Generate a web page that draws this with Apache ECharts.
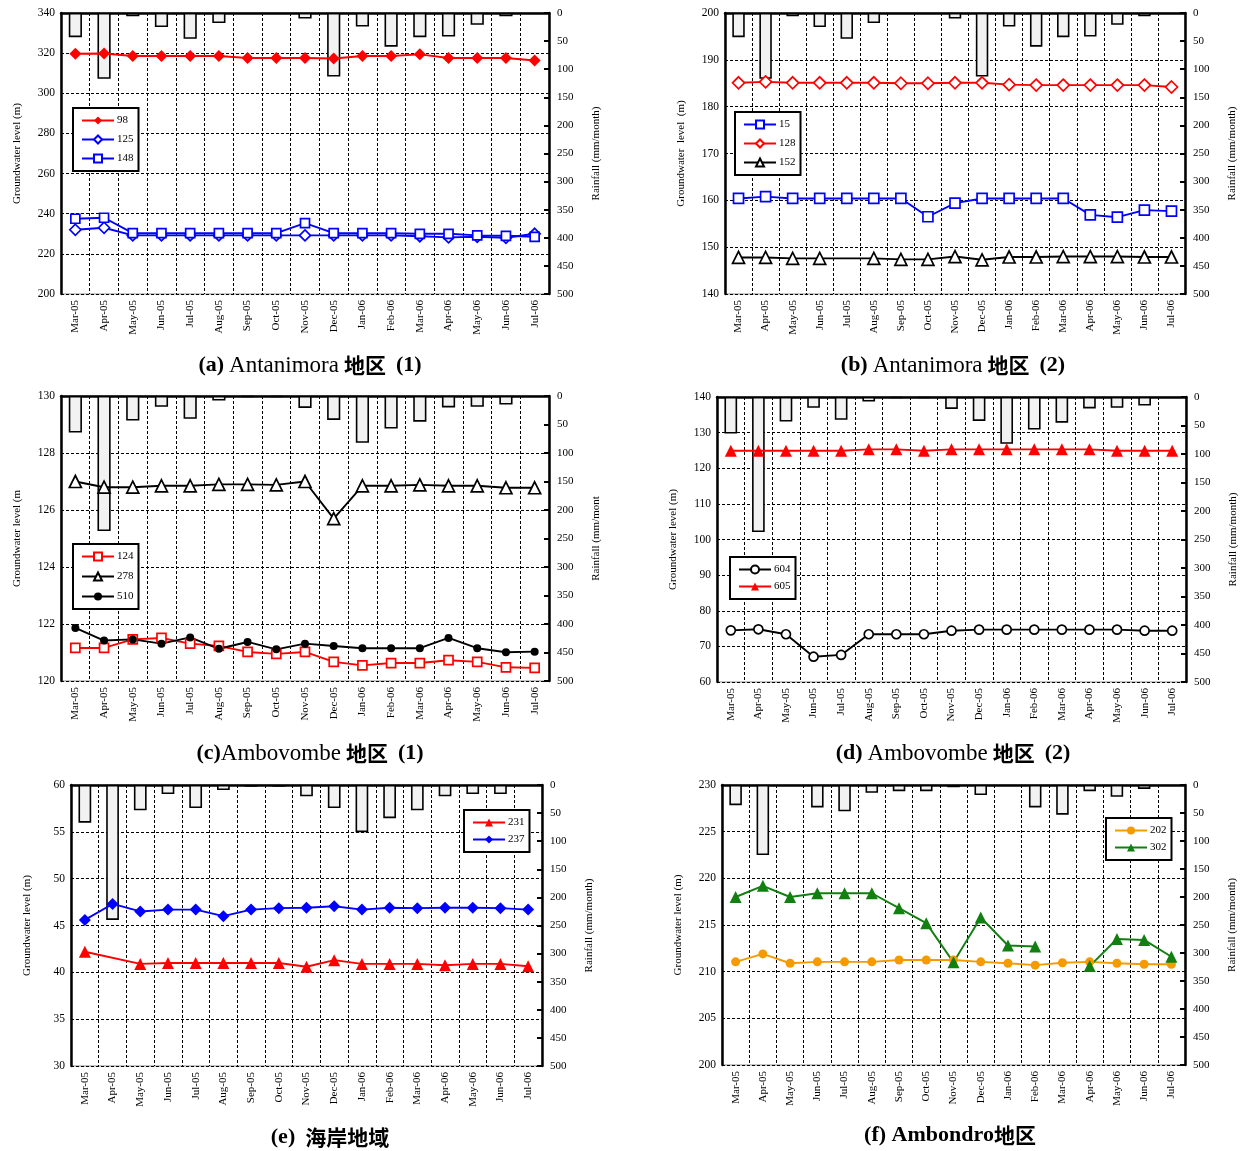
<!DOCTYPE html>
<html>
<head>
<meta charset="utf-8">
<script src="https://cdn.jsdelivr.net/npm/echarts@6/dist/echarts.min.js"></script>
<style>
  html, body { margin: 0; padding: 0; background: #fff; }
  #chart { width: 1243px; height: 1151px; }
</style>
</head>
<body>
<div id="chart"></div>
<script>
// Monthly observation period
const months = ['Mar-05','Apr-05','May-05','Jun-05','Jul-05','Aug-05','Sep-05','Oct-05','Nov-05','Dec-05','Jan-06','Feb-06','Mar-06','Apr-06','May-06','Jun-06','Jul-06'];

// Monthly rainfall (mm/month) per area
const rainAntanimora = [43, 117, 6, 25, 46, 18, 0, 0, 10, 113, 24, 60, 43, 42, 21, 6, 0];
const rainAmbovombe  = [64, 237, 43, 19, 40, 8, 2, 2, 21, 42, 82, 57, 45, 20, 19, 15, 0];
const rainCoast      = [67, 240, 45, 16, 41, 9, 3, 3, 20, 41, 84, 59, 45, 20, 16, 16, 0];
const rainAmbondro   = [36, 125, 0, 40, 47, 14, 11, 11, 4, 18, 0, 40, 53, 11, 21, 7, 0];

// Groundwater levels (m) per well
const well98  = [319.7, 319.8, 318.6, 318.6, 318.6, 318.6, 317.6, 317.6, 317.6, 317.3, 318.6, 318.6, 319.4, 317.6, 317.6, 317.6, 316.3];
const well125 = [232.0, 233.0, 229.2, 229.2, 229.2, 229.2, 229.2, 229.2, 229.2, 229.2, 229.2, 229.2, 228.8, 228.2, 228.5, 228.0, 230.0];
const well148 = [237.5, 238.0, 230.3, 230.3, 230.3, 230.3, 230.3, 230.3, 235.3, 230.3, 230.3, 230.3, 230.0, 230.0, 229.2, 229.0, 228.5];

const well15  = [160.4, 160.8, 160.4, 160.4, 160.4, 160.4, 160.4, 156.5, 159.4, 160.4, 160.4, 160.4, 160.4, 156.9, 156.4, 157.9, 157.7];
const well128 = [185.1, 185.3, 185.1, 185.1, 185.1, 185.1, 185.0, 185.0, 185.1, 185.1, 184.7, 184.6, 184.6, 184.6, 184.6, 184.6, 184.2];
const well152 = [147.8, 147.8, 147.6, 147.6, null, 147.6, 147.4, 147.4, 148.0, 147.3, 147.9, 147.9, 148.0, 148.0, 148.0, 147.9, 147.9];

const well124 = [121.16, 121.16, 121.46, 121.51, 121.31, 121.23, 121.02, 120.95, 121.02, 120.67, 120.55, 120.63, 120.63, 120.73, 120.67, 120.48, 120.46];
const well278 = [127.0, 126.8, 126.8, 126.85, 126.85, 126.9, 126.9, 126.88, 127.0, 125.7, 126.85, 126.85, 126.88, 126.85, 126.85, 126.78, 126.78];
const well510 = [121.86, 121.42, 121.46, 121.31, 121.53, 121.13, 121.37, 121.11, 121.31, 121.23, 121.15, 121.15, 121.15, 121.51, 121.15, 121.01, 121.03];

const well604 = [74.5, 74.8, 73.4, 67.1, 67.6, 73.4, 73.4, 73.4, 74.4, 74.7, 74.7, 74.7, 74.7, 74.7, 74.7, 74.4, 74.4];
const well605 = [124.9, 124.9, 124.9, 124.9, 124.9, 125.3, 125.3, 124.9, 125.3, 125.3, 125.3, 125.3, 125.3, 125.3, 124.9, 124.9, 124.9];

const well231 = [42.2, null, 40.9, 41.0, 41.0, 41.0, 41.0, 41.0, 40.6, 41.3, 40.9, 40.9, 40.9, 40.75, 40.9, 40.9, 40.65];
const well237 = [45.6, 47.3, 46.5, 46.7, 46.7, 46.0, 46.7, 46.85, 46.9, 47.05, 46.7, 46.9, 46.85, 46.9, 46.9, 46.85, 46.7];

const well202 = [211.05, 211.9, 210.9, 211.05, 211.05, 211.05, 211.25, 211.25, 211.25, 211.05, 210.9, 210.7, 210.95, 211.05, 210.9, 210.8, 210.8];
const well302 = [218.0, 219.2, 218.0, 218.4, 218.4, 218.4, 216.8, 215.2, 211.0, 215.8, 212.8, 212.7, null, 210.6, 213.5, 213.4, 211.6];

const SERIF = 'Liberation Serif';
const CJK = 'Noto Sans CJK SC';

// Well line styles: colour, symbol, open/filled, symbol size
const wellStyles = {
  '98':  { c: '#ff0000', s: 'diamond',  open: false, size: 12 },
  '125': { c: '#0000ff', s: 'diamond',  open: true,  size: 11 },
  '148': { c: '#0000ff', s: 'rect',     open: true,  size: 9 },
  '15':  { c: '#0000ff', s: 'rect',     open: true,  size: 10 },
  '128': { c: '#ff0000', s: 'diamond',  open: true,  size: 12 },
  '152': { c: '#000000', s: 'triangle', open: true,  size: 12 },
  '124': { c: '#ff0000', s: 'rect',     open: true,  size: 9 },
  '278': { c: '#000000', s: 'triangle', open: true,  size: 12 },
  '510': { c: '#000000', s: 'circle',   open: false, size: 8 },
  '604': { c: '#000000', s: 'circle',   open: true,  size: 9 },
  '605': { c: '#ff0000', s: 'triangle', open: false, size: 12 },
  '231': { c: '#ff0000', s: 'triangle', open: false, size: 12 },
  '237': { c: '#0000ff', s: 'diamond',  open: false, size: 12 },
  '202': { c: '#f59a00', s: 'circle',   open: false, size: 9 },
  '302': { c: '#118011', s: 'triangle', open: false, size: 12 }
};

// Panel layout and contents
const panels = [
  { grid: { left: 61, top: 13, width: 488, height: 281 }, y: [200, 340, 20], rain: rainAntanimora,
    wells: [['98', well98], ['125', well125], ['148', well148]], connect: true,
    legend: { left: 73, top: 108, itemGap: 8 }, yName: 'Groundwater level (m)', rName: 'Rainfall (mm/month)',
    title: '{b|(a)} {r|Antanimora} {c|地区}  {b|(1)}', tx: 305, ty: 349 },
  { grid: { left: 725, top: 13, width: 460, height: 281 }, y: [140, 200, 10], rain: rainAntanimora,
    wells: [['15', well15], ['128', well128], ['152', well152]], connect: true,
    legend: { left: 735, top: 112, itemGap: 8 }, yName: 'Groundwater  level  (m)', rName: 'Rainfall (mm/month)',
    title: '{b|(b)} {r|Antanimora} {c|地区}  {b|(2)}', tx: 948, ty: 349 },
  { grid: { left: 61, top: 396, width: 488, height: 285 }, y: [120, 130, 2], rain: rainAmbovombe,
    wells: [['124', well124], ['278', well278], ['510', well510]], connect: true,
    legend: { left: 73, top: 544, itemGap: 9 }, yName: 'Groundwater level (m', rName: 'Rainfall (mm/mont',
    title: '{b|(c)}{r|Ambovombe} {c|地区}  {b|(1)}', tx: 305, ty: 737 },
  { grid: { left: 717, top: 397, width: 469, height: 285 }, y: [60, 140, 10], rain: rainAmbovombe,
    wells: [['604', well604], ['605', well605]], connect: true,
    legend: { left: 730, top: 557, itemGap: 6 }, yName: 'Groundwater level (m)', rName: 'Rainfall (mm/month)',
    title: '{b|(d)} {r|Ambovombe} {c|地区}  {b|(2)}', tx: 948, ty: 737 },
  { grid: { left: 71, top: 785, width: 471, height: 281 }, y: [30, 60, 5], rain: rainCoast,
    wells: [['231', well231], ['237', well237]], connect: true,
    legend: { left: 464, top: 810, itemGap: 6 }, yName: 'Groundwater level (m)', rName: 'Rainfall (mm/month)',
    title: '{b|(e)}  {c|海岸地域}', tx: 325, ty: 1121 },
  { grid: { left: 722, top: 785, width: 463, height: 280 }, y: [200, 230, 5], rain: rainAmbondro,
    wells: [['202', well202], ['302', well302]], connect: false,
    legend: { left: 1106, top: 818, itemGap: 6 }, yName: 'Groundwater level (m)', rName: 'Rainfall (mm/month)',
    title: '{b|(f) Ambondro}{c|地区}', tx: 945, ty: 1119 }
];

const grids = [], xAxes = [], yAxes = [], series = [], legends = [], titles = [];

panels.forEach((p, i) => {
  grids.push(Object.assign({ show: true, borderColor: '#8a8a8a', borderWidth: 1, backgroundColor: '#fff' }, p.grid));

  xAxes.push({
    type: 'category', gridIndex: i, data: months, boundaryGap: true,
    axisLine: { show: true, lineStyle: { color: '#000', width: 2.5 } },
    axisTick: { show: false },
    axisLabel: { rotate: 90, fontFamily: SERIF, fontSize: 11, color: '#000', margin: 6, interval: 0 },
    splitLine: { show: true, interval: 0, lineStyle: { color: '#000', type: [3, 2], width: 1 } }
  });

  // Groundwater level on the left
  yAxes.push({
    type: 'value', gridIndex: i, position: 'left', min: p.y[0], max: p.y[1], interval: p.y[2],
    name: p.yName, nameLocation: 'middle', nameGap: 38, nameRotate: 90,
    nameTextStyle: { fontFamily: SERIF, fontSize: 11, color: '#000' },
    axisLine: { show: true, onZero: false, lineStyle: { color: '#000', width: 2.5 } },
    axisTick: { show: false },
    axisLabel: { fontFamily: SERIF, fontSize: 11.5, color: '#000', margin: 6 },
    splitLine: { show: true, lineStyle: { color: '#000', type: [3, 2], width: 1 } }
  });

  // Rainfall on the right, growing down from the top edge
  yAxes.push({
    type: 'value', gridIndex: i, position: 'right', min: 0, max: 500, interval: 50, inverse: true,
    name: p.rName, nameLocation: 'middle', nameGap: 42, nameRotate: 90,
    nameTextStyle: { fontFamily: SERIF, fontSize: 11, color: '#000' },
    axisLine: { show: true, onZero: false, lineStyle: { color: '#000', width: 2.5 } },
    axisTick: { show: true, inside: true, length: 5, lineStyle: { color: '#000', width: 2 } },
    axisLabel: { fontFamily: SERIF, fontSize: 11, color: '#000', margin: 8 },
    splitLine: { show: false }
  });

  // Months without rain draw no outline
  series.push({
    name: 'rain' + i, type: 'bar', xAxisIndex: i, yAxisIndex: 2 * i + 1,
    data: p.rain.map(v => v > 0 ? v : { value: v, itemStyle: { borderWidth: 0 } }),
    barWidth: '46%', z: 1,
    itemStyle: { color: '#f2f2f2', borderColor: '#000', borderWidth: 1.6 },
    silent: true
  });

  p.wells.forEach(([name, data]) => {
    const st = wellStyles[name];
    series.push({
      name: name, type: 'line', xAxisIndex: i, yAxisIndex: 2 * i,
      data: data, connectNulls: p.connect, z: 3,
      symbol: st.s, symbolSize: st.size, showAllSymbol: true,
      lineStyle: { color: st.c, width: 1.9 },
      itemStyle: { color: st.open ? '#fff' : st.c, borderColor: st.c, borderWidth: st.open ? 1.7 : 0 },
      emphasis: { disabled: true }
    });
  });

  legends.push({
    data: p.wells.map(w => w[0]), orient: 'vertical', left: p.legend.left, top: p.legend.top,
    itemWidth: 32, itemHeight: 10, itemGap: p.legend.itemGap,
    padding: [7, 5, 7, 8],
    backgroundColor: '#fff', borderColor: '#000', borderWidth: 2,
    textStyle: { fontFamily: SERIF, fontSize: 11, color: '#000', padding: [0, 0, 0, -2] },
    selectedMode: false
  });

  titles.push({
    text: p.title, left: p.tx, top: p.ty, textAlign: 'center',
    textStyle: {
      rich: {
        b: { fontFamily: SERIF, fontSize: 22, fontWeight: 'bold', color: '#000' },
        r: { fontFamily: SERIF, fontSize: 23, fontWeight: 'normal', color: '#000' },
        c: { fontFamily: CJK, fontSize: 21, fontWeight: 'bold', color: '#000' }
      }
    }
  });
});

const chart = echarts.init(document.getElementById('chart'), null, { renderer: 'canvas' });
chart.setOption({
  animation: false,
  backgroundColor: '#fff',
  title: titles,
  legend: legends,
  grid: grids,
  xAxis: xAxes,
  yAxis: yAxes,
  series: series
});
</script>
</body>
</html>
